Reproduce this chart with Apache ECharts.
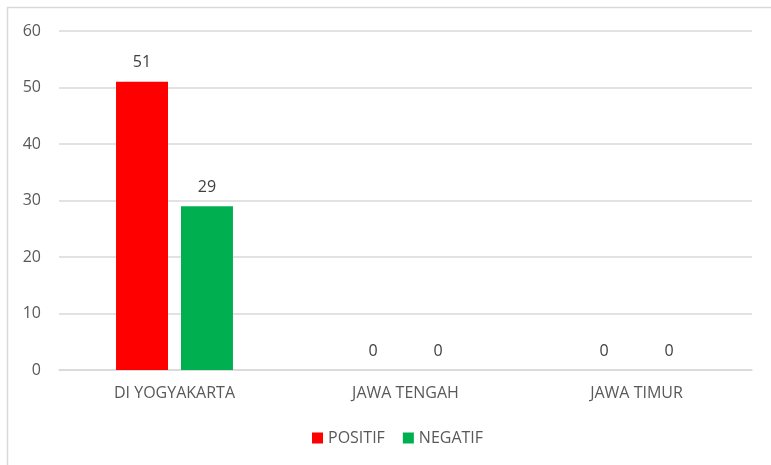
<!DOCTYPE html>
<html>
<head>
<meta charset="utf-8">
<script src="https://cdn.jsdelivr.net/npm/echarts@6/dist/echarts.min.js"></script>
<style>
  html, body { margin: 0; padding: 0; background: #fff; }
  #chart { width: 771px; height: 465px; }
</style>
</head>
<body>
<div id="chart"></div>
<script>
// Province categories and the counts per sentiment
const categories = ['DI YOGYAKARTA', 'JAWA TENGAH', 'JAWA TIMUR'];
const positif = [51, 0, 0];
const negatif = [29, 0, 0];
const yTicks = { min: 0, max: 60, interval: 10 };

const textColor = '#595959';
const fontFamily = '"Open Sans", "Liberation Sans", sans-serif';

const chart = echarts.init(document.getElementById('chart'));

const barLabel = {
  show: true,
  position: 'top',
  distance: 11,
  color: '#404040',
  fontSize: 16,
  fontFamily: fontFamily
};

chart.setOption({
  animation: false,
  textStyle: { fontFamily: fontFamily },
  graphic: [{
    type: 'rect',
    shape: { x: 7.5, y: 7.5, width: 800, height: 500 },
    style: { fill: 'none', stroke: '#d9d9d9', lineWidth: 1.5 },
    silent: true
  }],
  grid: { left: 59, right: 19, top: 31, bottom: 95 },
  legend: {
    bottom: 14,
    left: 307,
    itemWidth: 11,
    itemHeight: 11,
    itemGap: 18,
    icon: 'rect',
    textStyle: { color: textColor, fontSize: 16, fontFamily: fontFamily },
    data: ['POSITIF', 'NEGATIF']
  },
  xAxis: {
    type: 'category',
    data: categories,
    axisLine: { lineStyle: { color: '#d9d9d9', width: 1.5 } },
    axisTick: { show: false },
    axisLabel: { color: textColor, fontSize: 16, margin: 15, fontFamily: fontFamily }
  },
  yAxis: {
    type: 'value',
    min: yTicks.min,
    max: yTicks.max,
    interval: yTicks.interval,
    axisLine: { show: false },
    axisTick: { show: false },
    axisLabel: { color: textColor, fontSize: 16, margin: 18, fontFamily: fontFamily },
    splitLine: { lineStyle: { color: '#d9d9d9', width: 1.5 } }
  },
  series: [
    {
      name: 'POSITIF',
      type: 'bar',
      data: positif,
      barWidth: '22.5%',
      barGap: '25%',
      itemStyle: { color: '#ff0000' },
      label: barLabel
    },
    {
      name: 'NEGATIF',
      type: 'bar',
      data: negatif,
      barWidth: '22.5%',
      itemStyle: { color: '#00b050' },
      label: barLabel
    }
  ]
});
</script>
</body>
</html>
